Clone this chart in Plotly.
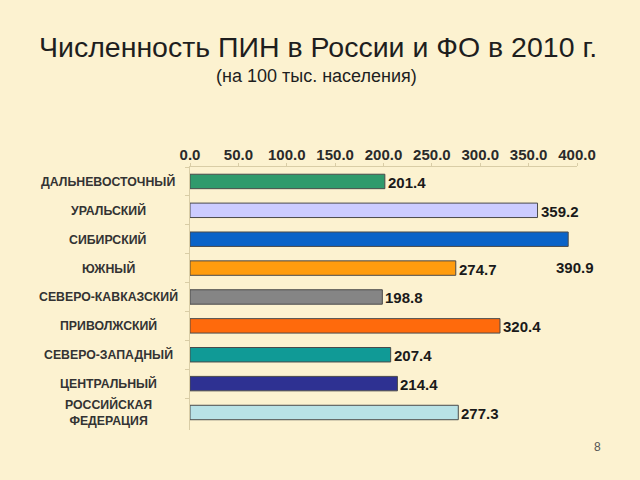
import plotly.graph_objects as go

categories = ["ДАЛЬНЕВОСТОЧНЫЙ", "УРАЛЬСКИЙ", "СИБИРСКИЙ", "ЮЖНЫЙ",
              "СЕВЕРО-КАВКАЗСКИЙ", "ПРИВОЛЖСКИЙ", "СЕВЕРО-ЗАПАДНЫЙ",
              "ЦЕНТРАЛЬНЫЙ", "РОССИЙСКАЯ<br>ФЕДЕРАЦИЯ"]
values = [201.4, 359.2, 390.9, 274.7, 198.8, 320.4, 207.4, 214.4, 277.3]
colors = ["#2F9A6C", "#CCCCFF", "#0A63C8", "#FF9C0E", "#858585",
          "#FF6A0C", "#109A96", "#2E3192", "#B8E2E6"]
tick_vals = [0, 50, 100, 150, 200, 250, 300, 350, 400]

bg = "#FCF2D0"
FONT = "Liberation Sans, Arial"

fig = go.Figure()
fig.add_trace(go.Bar(
    x=values, y=categories, orientation="h",
    marker=dict(color=colors, line=dict(color="#4A4A4A", width=1)),
    width=0.5, showlegend=False, hoverinfo="x+y",
))

L, R, T, B = 190, 63, 167, 50
plot_h = 480 - T - B
plot_w = 640 - L - R
def ypaper(py):
    return (480 - B - py) / plot_h
def xpaper(px):
    return (px - L) / plot_w

ann = []
for c, v in zip(categories, values):
    ann.append(dict(x=xpaper(108), xref="paper", y=c, yref="y", text=f"<b>{c}</b>",
                    showarrow=False, xanchor="center", yanchor="middle",
                    align="center",
                    font=dict(family=FONT, size=12.3, color="#333333")))
    if v > 380:
        ann.append(dict(x=v, xref="x", y=c, yref="y", text=f"<b>{v:.1f}</b>",
                        showarrow=False, xanchor="center", yanchor="middle",
                        xshift=7, yshift=-28,
                        font=dict(family=FONT, size=15, color="#1A1A1A")))
    else:
        ann.append(dict(x=v, xref="x", y=c, yref="y", text=f"<b>{v:.1f}</b>",
                        showarrow=False, xanchor="left", yanchor="middle",
                        xshift=1, yshift=-1,
                        font=dict(family=FONT, size=15, color="#1A1A1A")))

ann += [
    dict(text="Численность ПИН в России и ФО в 2010 г.", x=xpaper(318), y=ypaper(47),
         xref="paper", yref="paper", showarrow=False, xanchor="center", yanchor="middle",
         font=dict(family=FONT, size=28.5, color="#1E1E1E")),
    dict(text="(на 100 тыс. населения)", x=xpaper(316), y=ypaper(76),
         xref="paper", yref="paper", showarrow=False, xanchor="center", yanchor="middle",
         font=dict(family=FONT, size=18, color="#1E1E1E")),
    dict(text="8", x=xpaper(597), y=ypaper(447),
         xref="paper", yref="paper", showarrow=False, xanchor="center", yanchor="middle",
         font=dict(family=FONT, size=12, color="#555555")),
]

fig.update_layout(
    width=640, height=480,
    paper_bgcolor=bg, plot_bgcolor=bg,
    margin=dict(l=L, r=R, t=T, b=B),
    xaxis=dict(side="top", range=[0, 400], tickvals=tick_vals,
               ticktext=[f"<b>{t:.1f}</b>" for t in tick_vals],
               showgrid=False, zeroline=False,
               showline=True, linecolor="#D9CDA6", linewidth=1,
               ticks="outside", ticklen=3, tickcolor="#D9CDA6",
               ticklabelstandoff=-3,
               tickfont=dict(family=FONT, size=15, color="#2A2A2A")),
    yaxis=dict(autorange="reversed", showticklabels=False, showgrid=False,
               showline=True, linecolor="#D9CDA6", linewidth=1,
               ticks="outside", ticklen=4, tickcolor="#D9CDA6", tickson="boundaries"),
    annotations=ann,
)

fig.write_html("out.html")
